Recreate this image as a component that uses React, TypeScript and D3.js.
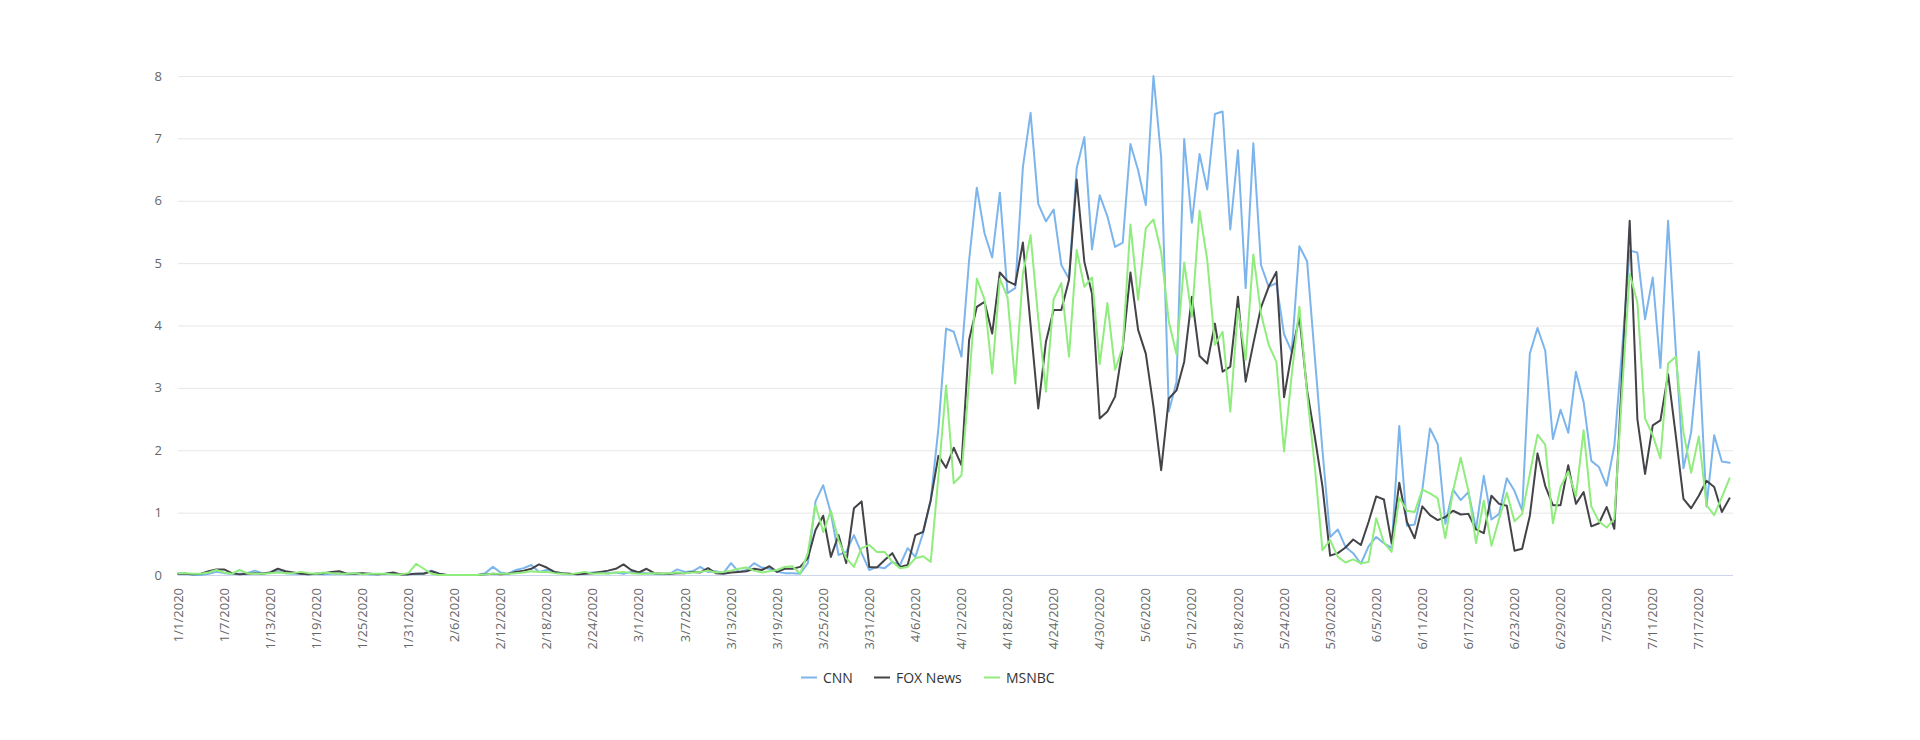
import React, { useRef, useEffect } from 'react';
import * as d3 from 'd3';

// daily values from 1/1/2020, one per day
const cnn = [
  0.02, 0.02, 0, 0, 0.02, 0.05, 0.03, 0.02, 0.02, 0.03,
  0.07, 0.03, 0.04, 0.06, 0.03, 0.02, 0.02, 0.01, 0.02, 0.01,
  0.02, 0.02, 0.01, 0.02, 0.02, 0.01, 0.01, 0.02, 0.03, 0.01,
  0.02, 0.02, 0.03, 0.07, 0.02, 0, 0, 0, 0, 0,
  0.03, 0.13, 0.04, 0.02, 0.08, 0.11, 0.16, 0.05, 0.08, 0.05,
  0.03, 0.01, 0.02, 0.03, 0.04, 0.05, 0.03, 0.04, 0.02, 0.05,
  0.04, 0.03, 0.02, 0.01, 0.02, 0.09, 0.05, 0.06, 0.13, 0.05,
  0.06, 0.03, 0.19, 0.05, 0.08, 0.19, 0.12, 0.1, 0.05, 0.03,
  0.03, 0.02,
  0.19, 1.18, 1.44, 0.99, 0.32, 0.37, 0.64, 0.35, 0.08, 0.13,
  0.11, 0.21, 0.16, 0.43, 0.29, 0.67, 1.2, 2.35, 3.95, 3.9,
  3.5, 5.05, 6.21, 5.48, 5.09, 6.13, 4.52, 4.6, 6.54, 7.41,
  5.95, 5.67, 5.86, 4.97, 4.75, 6.52, 7.02, 5.22, 6.09, 5.75,
  5.26, 5.33, 6.91, 6.49, 5.93, 8.0, 6.7, 2.62, 3.1, 6.99,
  5.65, 6.75, 6.18, 7.39, 7.43, 5.54, 6.81, 4.6, 6.92, 4.97,
  4.62, 4.68, 3.86, 3.58, 5.27, 5.03, 3.5, 2.0, 0.61, 0.73,
  0.45, 0.35, 0.18, 0.46, 0.61, 0.51, 0.43, 2.39, 0.79, 0.81,
  1.36, 2.35, 2.1, 0.82, 1.37, 1.2, 1.33, 0.74, 1.59, 0.89,
  0.98, 1.55, 1.35, 1.03, 3.55, 3.96, 3.6, 2.18, 2.65, 2.28,
  3.26, 2.77, 1.83, 1.73, 1.43, 2.07, 3.6, 5.2, 5.17, 4.1,
  4.77, 3.32, 5.68, 3.6, 1.71, 2.29, 3.58, 1.1, 2.24, 1.82, 1.8,
];

const fox = [
  0.02, 0.02, 0.01, 0.02, 0.06, 0.09, 0.09, 0.03, 0.01, 0.02,
  0.03, 0.02, 0.04, 0.1, 0.06, 0.04, 0.02, 0.01, 0.02, 0.03,
  0.05, 0.06, 0.02, 0.02, 0.03, 0.02, 0.01, 0.02, 0.04, 0.01,
  0.01, 0.02, 0.02, 0.06, 0.02, 0, 0, 0, 0, 0,
  0.01, 0.02, 0.01, 0.02, 0.05, 0.07, 0.1, 0.17, 0.12, 0.05,
  0.03, 0.02, 0.01, 0.02, 0.03, 0.05, 0.07, 0.1, 0.17, 0.08,
  0.04, 0.1, 0.03, 0.02, 0.02, 0.03, 0.03, 0.05, 0.04, 0.11,
  0.03, 0.02, 0.04, 0.05, 0.06, 0.1, 0.08, 0.14, 0.05, 0.1,
  0.1, 0.13,
  0.27, 0.72, 0.95, 0.29, 0.64, 0.19, 1.07, 1.18, 0.13, 0.12,
  0.24, 0.35, 0.13, 0.16, 0.64, 0.69, 1.2, 1.91, 1.72, 2.04,
  1.76, 3.77, 4.3, 4.38, 3.87, 4.85, 4.71, 4.65, 5.33, 4.01,
  2.67, 3.74, 4.25, 4.25, 4.73, 6.34, 5.02, 4.51, 2.51, 2.62,
  2.86, 3.65, 4.85, 3.93, 3.55, 2.7, 1.68, 2.83, 2.96, 3.42,
  4.46, 3.51, 3.39, 4.03, 3.26, 3.34, 4.46, 3.1, 3.71, 4.29,
  4.62, 4.86, 2.85, 3.56, 4.14, 2.96, 2.22, 1.42, 0.31, 0.35,
  0.44, 0.57, 0.48, 0.85, 1.26, 1.21, 0.51, 1.48, 0.85, 0.59,
  1.1, 0.96, 0.88, 0.93, 1.03, 0.97, 0.98, 0.73, 0.67, 1.27,
  1.14, 1.11, 0.39, 0.42, 0.95, 1.95, 1.43, 1.12, 1.12, 1.76,
  1.14, 1.33, 0.78, 0.83, 1.09, 0.74, 3.2, 5.68, 2.5, 1.62,
  2.4, 2.48, 3.22, 2.24, 1.22, 1.07, 1.27, 1.51, 1.41, 1.01, 1.23,
];

const msnbc = [
  0.03, 0.03, 0.02, 0.02, 0.04, 0.08, 0.04, 0.02, 0.08, 0.03,
  0.02, 0.02, 0.03, 0.04, 0.03, 0.03, 0.05, 0.03, 0.02, 0.04,
  0.03, 0.02, 0.02, 0.03, 0.01, 0.02, 0.02, 0.02, 0.01, 0.01,
  0.03, 0.18, 0.1, 0.02, 0, 0, 0, 0, 0, 0,
  0.01, 0.02, 0.02, 0.02, 0.03, 0.04, 0.06, 0.05, 0.05, 0.03,
  0.02, 0.01, 0.03, 0.05, 0.02, 0.03, 0.02, 0.04, 0.05, 0.03,
  0.02, 0.02, 0.03, 0.02, 0.03, 0.04, 0.03, 0.04, 0.05, 0.07,
  0.04, 0.05, 0.07, 0.1, 0.12, 0.07, 0.04, 0.06, 0.08, 0.13,
  0.14, 0.02,
  0.35, 1.12, 0.69, 1.03, 0.56, 0.27, 0.13, 0.43, 0.48, 0.37,
  0.37, 0.21, 0.11, 0.13, 0.27, 0.3, 0.21, 1.58, 3.04, 1.47,
  1.6, 3.1, 4.75, 4.42, 3.23, 4.75, 4.45, 3.07, 4.83, 5.45,
  4.11, 2.94, 4.42, 4.68, 3.5, 5.21, 4.62, 4.77, 3.38, 4.36,
  3.29, 3.66, 5.62, 4.41, 5.56, 5.7, 5.18, 4.06, 3.54, 5.01,
  4.14, 5.84, 5.05, 3.69, 3.9, 2.62, 4.27, 3.45, 5.14, 4.19,
  3.69, 3.42, 1.98, 3.21, 4.3, 2.91, 1.74, 0.4, 0.56, 0.29,
  0.2, 0.25, 0.19, 0.21, 0.91, 0.52, 0.37, 1.24, 1.03, 1.01,
  1.37, 1.31, 1.23, 0.59, 1.35, 1.88, 1.35, 0.51, 1.19, 0.47,
  0.9, 1.32, 0.86, 0.98, 1.62, 2.25, 2.09, 0.83, 1.41, 1.66,
  1.26, 2.32, 1.1, 0.86, 0.76, 0.9, 2.93, 4.83, 4.37, 2.51,
  2.24, 1.87, 3.39, 3.5, 2.29, 1.64, 2.22, 1.12, 0.96, 1.25, 1.55,
];

const seriesNames = ['CNN', 'FOX News', 'MSNBC'];
const seriesColors = ['#7cb5ec', '#434348', '#90ed7d'];
const yTicks = [0, 1, 2, 3, 4, 5, 6, 7, 8];
const tickEveryDays = 6;

const DAY = 864e5;
const start = Date.UTC(2020, 0, 1);

const App: React.FC = () => {
  const svgRef = useRef<SVGSVGElement | null>(null);

  useEffect(() => {
    if (!svgRef.current) return;
    const svg = d3.select(svgRef.current);
    svg.selectAll('*').remove();

    const width = 1920;
    const height = 740;
    const left = 178;
    const right = 1733;
    const top = 76;
    const bottom = 575;
    const font = '"Open Sans", "Noto Sans", sans-serif';

    const dates = cnn.map((_, i) => new Date(start + i * DAY));
    const x = d3.scaleUtc()
      .domain([dates[0], new Date(start + (dates.length - 1 + 0.45) * DAY)])
      .range([left, right]);
    const y = d3.scaleLinear().domain([0, 8]).range([bottom, top]);

    svg.attr('viewBox', `0 0 ${width} ${height}`);

    // grid
    svg.append('g')
      .selectAll('line')
      .data(yTicks.filter(t => t > 0))
      .enter()
      .append('line')
      .attr('x1', left)
      .attr('x2', right)
      .attr('y1', d => y(d) + 0.5)
      .attr('y2', d => y(d) + 0.5)
      .attr('stroke', '#e6e6e6')
      .attr('stroke-width', 1);

    // y labels
    svg.append('g')
      .selectAll('text')
      .data(yTicks)
      .enter()
      .append('text')
      .attr('x', 162)
      .attr('y', d => y(d))
      .attr('dy', '0.35em')
      .attr('text-anchor', 'end')
      .style('font-family', font)
      .style('font-size', '13px')
      .style('fill', '#666666')
      .text(d => d);

    // x axis line
    svg.append('line')
      .attr('x1', left)
      .attr('x2', right)
      .attr('y1', bottom + 0.5)
      .attr('y2', bottom + 0.5)
      .attr('stroke', '#ccd6eb')
      .attr('stroke-width', 1);

    const tickDates = d3.range(0, dates.length, tickEveryDays).map(i => dates[i]);
    const fmt = d3.utcFormat('%-m/%-d/%Y');
    svg.append('g')
      .selectAll('text')
      .data(tickDates)
      .enter()
      .append('text')
      .attr('transform', d => `translate(${x(d)},588) rotate(-90)`)
      .attr('dy', '0.35em')
      .attr('text-anchor', 'end')
      .style('font-family', font)
      .style('font-size', '13px')
      .style('fill', '#666666')
      .text(d => fmt(d));

    // lines
    const line = d3.line<number>()
      .x((_, i) => x(dates[i]))
      .y(d => y(d));

    [cnn, fox, msnbc].forEach((values, k) => {
      svg.append('path')
        .datum(values)
        .attr('d', line)
        .attr('fill', 'none')
        .attr('stroke', seriesColors[k])
        .attr('stroke-width', 2)
        .attr('stroke-linejoin', 'round')
        .attr('stroke-linecap', 'round');
    });

    // legend
    const legendX = [801, 874, 984];
    const legend = svg.append('g');
    seriesNames.forEach((name, k) => {
      legend.append('line')
        .attr('x1', legendX[k])
        .attr('x2', legendX[k] + 16)
        .attr('y1', 677.5)
        .attr('y2', 677.5)
        .attr('stroke', seriesColors[k])
        .attr('stroke-width', 2);
      legend.append('text')
        .attr('x', legendX[k] + 22)
        .attr('y', 682.5)
        .style('font-family', font)
        .style('font-size', '14px')
        .style('fill', '#333333')
        .text(name);
    });
  }, []);

  return (
    <svg
      ref={svgRef}
      width={1920}
      height={740}
      style={{ position: 'absolute', left: 0, top: 0, background: '#fff' }}
    />
  );
};

export default App;
